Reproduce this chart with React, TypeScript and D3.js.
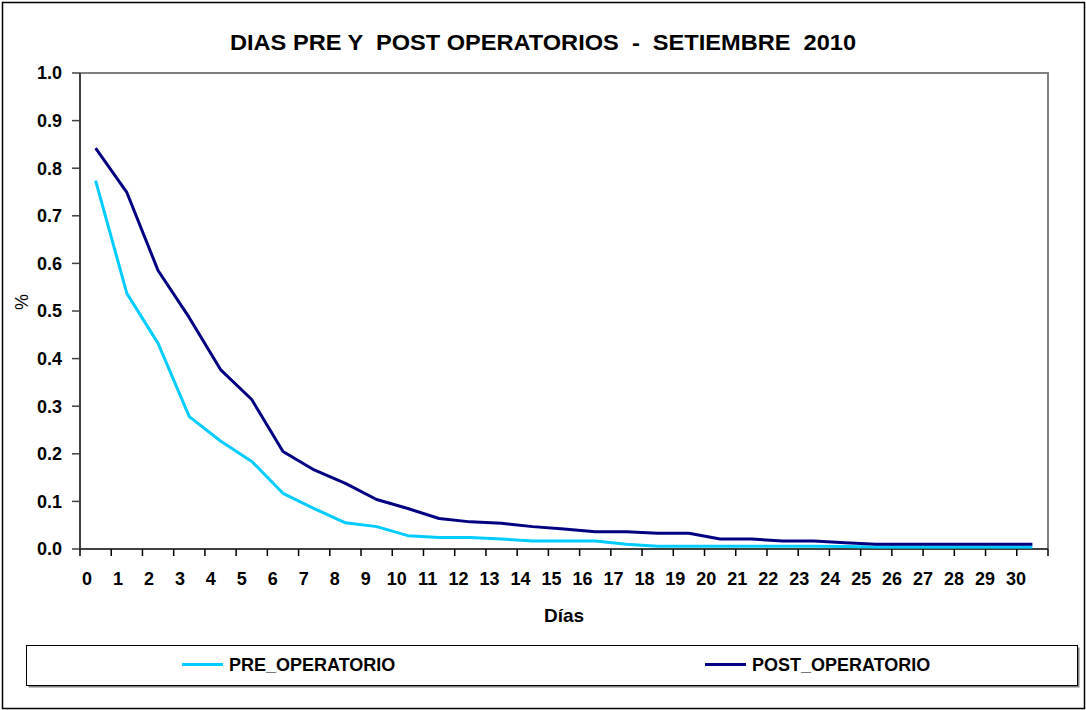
import * as d3 from "d3";

const days = d3.range(0, 31).map(String);

const preOperatorio = [
  0.774, 0.537, 0.432, 0.278, 0.227, 0.184, 0.117, 0.085, 0.055, 0.047,
  0.028, 0.024, 0.024, 0.021, 0.017, 0.017, 0.017, 0.01, 0.006, 0.006,
  0.006, 0.006, 0.006, 0.006, 0.005, 0.004, 0.004, 0.004, 0.004, 0.004,
  0.004,
];

const postOperatorio = [
  0.842, 0.749, 0.585, 0.486, 0.377, 0.314, 0.205, 0.166, 0.138, 0.104,
  0.085, 0.064, 0.057, 0.054, 0.047, 0.042, 0.036, 0.036, 0.033, 0.033,
  0.021, 0.021, 0.017, 0.017, 0.013, 0.01, 0.01, 0.01, 0.01, 0.01, 0.01,
];

const yTicks = [0, 0.1, 0.2, 0.3, 0.4, 0.5, 0.6, 0.7, 0.8, 0.9, 1.0];

const series = [
  { name: "PRE_OPERATORIO", values: preOperatorio, color: "#00CCFF" },
  { name: "POST_OPERATORIO", values: postOperatorio, color: "#000080" },
];

const W = 1086;
const H = 710;
const left = 80;
const right = 1048;
const top = 73;
const bottom = 549;
const font = "'Liberation Sans', Arial, sans-serif";

export default function App() {
  const x = d3.scaleBand().domain(days).range([left, right]).paddingInner(0);
  const xLabel = d3.scalePoint().domain(days).range([87, 1016]);
  const y = d3.scaleLinear().domain([0, 1]).range([bottom, top]);

  const line = d3
    .line<number>()
    .x((_, i) => x(days[i])! + x.bandwidth() / 2)
    .y((d) => y(d));

  const tickEdges = days.map((d) => x(d)!).concat([right]);

  return (
    <svg
      width={W}
      height={H}
      style={{ position: "absolute", left: 0, top: 0, background: "#fff" }}
      fontFamily={font}
    >
      <rect x={2.5} y={2.5} width={1082} height={706} fill="#fff" stroke="#000" strokeWidth={1.5} />

      <text
        x={230}
        y={50}
        fontSize={22}
        fontWeight="bold"
        textLength={626}
        lengthAdjust="spacingAndGlyphs"
        style={{ whiteSpace: "pre" }}
      >
        DIAS PRE Y  POST OPERATORIOS  -  SETIEMBRE  2010
      </text>

      {/* plot frame */}
      <polyline
        points={`${left},${top} ${right},${top} ${right},${bottom}`}
        fill="none"
        stroke="#808080"
        strokeWidth={2}
      />

      {/* y axis */}
      <line x1={left} x2={left} y1={top} y2={bottom} stroke="#404040" strokeWidth={2} />
      {yTicks.map((t) => (
        <g key={t}>
          <line x1={left - 8} x2={left} y1={y(t)} y2={y(t)} stroke="#404040" strokeWidth={1.5} />
          <text x={62} y={y(t)} dy="0.36em" textAnchor="end" fontSize={18} fontWeight="bold">
            {d3.format(".1f")(t)}
          </text>
        </g>
      ))}
      <text
        transform={`translate(28,302) rotate(-90)`}
        textAnchor="middle"
        fontSize={18}
      >
        %
      </text>

      {/* x axis */}
      <line x1={left} x2={right} y1={bottom} y2={bottom} stroke="#404040" strokeWidth={2} />
      {tickEdges.map((e, i) => (
        <line key={i} x1={e} x2={e} y1={bottom} y2={bottom + 7} stroke="#000" strokeWidth={1.5} />
      ))}
      {days.map((d) => (
        <text key={d} x={xLabel(d)} y={585} textAnchor="middle" fontSize={18} fontWeight="bold">
          {d}
        </text>
      ))}
      <text x={564} y={622} textAnchor="middle" fontSize={19} fontWeight="bold">
        Días
      </text>

      {/* lines */}
      {series.map((s) => (
        <path
          key={s.name}
          d={line(s.values)!}
          fill="none"
          stroke={s.color}
          strokeWidth={3}
          strokeLinejoin="round"
        />
      ))}

      {/* legend */}
      <rect x={28.5} y={647.5} width={1051} height={40} fill="#808080" />
      <rect x={26.5} y={645.5} width={1051} height={40} fill="#fff" stroke="#000" strokeWidth={1} />
      {series.map((s, i) => {
        const lx = i === 0 ? 182 : 705;
        return (
          <g key={s.name}>
            <line x1={lx} x2={lx + 41} y1={664.5} y2={664.5} stroke={s.color} strokeWidth={3} />
            <text x={lx + 47} y={664.5} dy="0.36em" fontSize={18} fontWeight="bold">
              {s.name}
            </text>
          </g>
        );
      })}
    </svg>
  );
}
